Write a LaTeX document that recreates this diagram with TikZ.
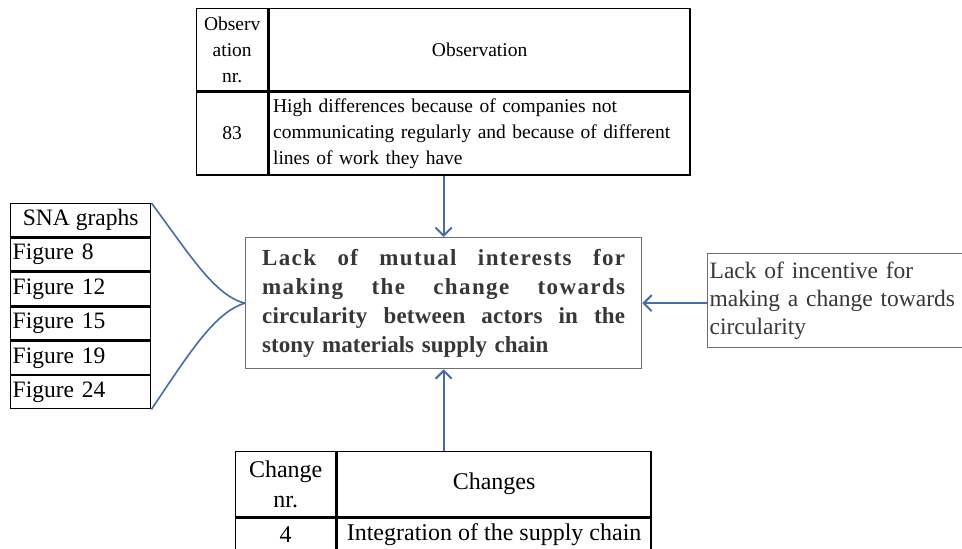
\documentclass[tikz,border=0pt]{standalone}
\usepackage{fontspec}
\setmainfont{Liberation Serif}
\usepackage{tikz}
\usetikzlibrary{positioning, arrows.meta}
\definecolor{linkblue}{RGB}{68,108,168}
\definecolor{boxgrey}{RGB}{110,110,110}
\definecolor{textgrey}{RGB}{55,55,55}

\newcommand{\tabfont}{\fontsize{19.5}{26}\selectfont}
\newcommand{\figfont}{\fontsize{23.5}{28}\selectfont}
\newcommand{\chgfont}{\fontsize{24}{30}\selectfont}
\newcommand{\corefont}{\fontsize{23}{29}\selectfont\bfseries}
\newcommand{\sidefont}{\fontsize{23.5}{28}\selectfont}
% a line spread over the full width of the statement box
\newcommand{\spreadline}[2]{\makebox[363pt]{\addfontfeatures{LetterSpace=#1}#2}}

\tikzset{
  cell/.style={draw=black, line width=1.4pt, inner sep=0pt, anchor=north west, align=center},
  figcell/.style={cell, minimum width=140pt, minimum height=33pt, text width=136pt, inner xsep=2pt, align=left, font=\figfont},
  flow/.style={draw=linkblue, line width=2pt, -{Straight Barb[length=8pt,width=16pt]}},
  brace/.style={draw=linkblue, line width=1.6pt},
}

\begin{document}
\begin{tikzpicture}[x=1pt, y=-1pt]
	\path[use as bounding box, clip] (0,0) rectangle (962,549);

	% observation table on top
	\node[cell, minimum width=71pt, minimum height=82pt, font=\tabfont] (obsnrhead) at (196,8) {Observ\\ation\\nr.};
	\node[cell, minimum width=421pt, minimum height=82pt, font=\tabfont] (obshead) at (obsnrhead.north east) {Observation};
	\node[cell, minimum width=71pt, minimum height=83pt, font=\tabfont] (obsnr) at (obsnrhead.south west) {83};
	\node[cell, minimum width=421pt, minimum height=83pt, text width=413pt, inner xsep=4pt, align=left, font=\tabfont] (obstext) at (obsnr.north east)
		{High differences because of companies not\\communicating regularly and because of different\\lines of work they have};

	% main statement in the middle
	\node[draw=boxgrey, line width=1.3pt, anchor=north west, minimum width=396pt, minimum height=131pt,
		text width=363pt, inner xsep=16.5pt, align=left, text=textgrey, font=\corefont] (core) at (245,237)
		{\spreadline{6}{Lack\hfill of\hfill mutual\hfill interests\hfill for}\\
		 \spreadline{6}{making\hfill the\hfill change\hfill towards}\\
		 \spreadline{1}{circularity\hfill between\hfill actors\hfill in\hfill the}\\
		 stony materials supply chain};

	% cause on the right
	\node[draw=boxgrey, line width=1.3pt, anchor=north west, minimum height=94pt, text width=290pt,
		inner xsep=2pt, align=left, text=textgrey, font=\sidefont] (incentive) at (707,253)
		{Lack of incentive for\\making a change towards\\circularity};

	% SNA graphs list on the left
	\node[cell, minimum width=140pt, minimum height=33pt, font=\figfont] (sna) at (10,203) {SNA graphs};
	\node[figcell] (fig8) at (sna.south west) {Figure 8};
	\node[figcell] (fig12) at (fig8.south west) {Figure 12};
	\node[figcell] (fig15) at (fig12.south west) {Figure 15};
	\node[figcell] (fig19) at (fig15.south west) {Figure 19};
	\node[figcell] (fig24) at (fig19.south west) {Figure 24};

	% changes table at the bottom
	\node[cell, minimum width=100pt, minimum height=65pt, font=\chgfont] (chgnrhead) at (235,451) {Change\\nr.};
	\node[cell, minimum width=314pt, minimum height=65pt, font=\chgfont] (chghead) at (chgnrhead.north east) {Changes};
	\node[cell, minimum width=100pt, minimum height=33pt, font=\chgfont] (chgnr) at (chgnrhead.south west) {4};
	\node[cell, minimum width=314pt, minimum height=33pt, font=\chgfont] (chgtext) at (chgnr.north east) {Integration of the supply chain};

	% arrows into the statement
	\draw[flow] (obstext.south -| core.north) -- (core.north);
	\draw[flow] (chghead.north -| core.south) -- (core.south);
	\draw[flow] (core.east -| incentive.west) -- (core.east);

	% curved brace from the list
	\draw[brace] (sna.north east) .. controls (190,255) and (215,296) .. (core.west);
	\draw[brace] (core.west) .. controls (215,312) and (190,352) .. (fig24.south east);
\end{tikzpicture}
\end{document}
